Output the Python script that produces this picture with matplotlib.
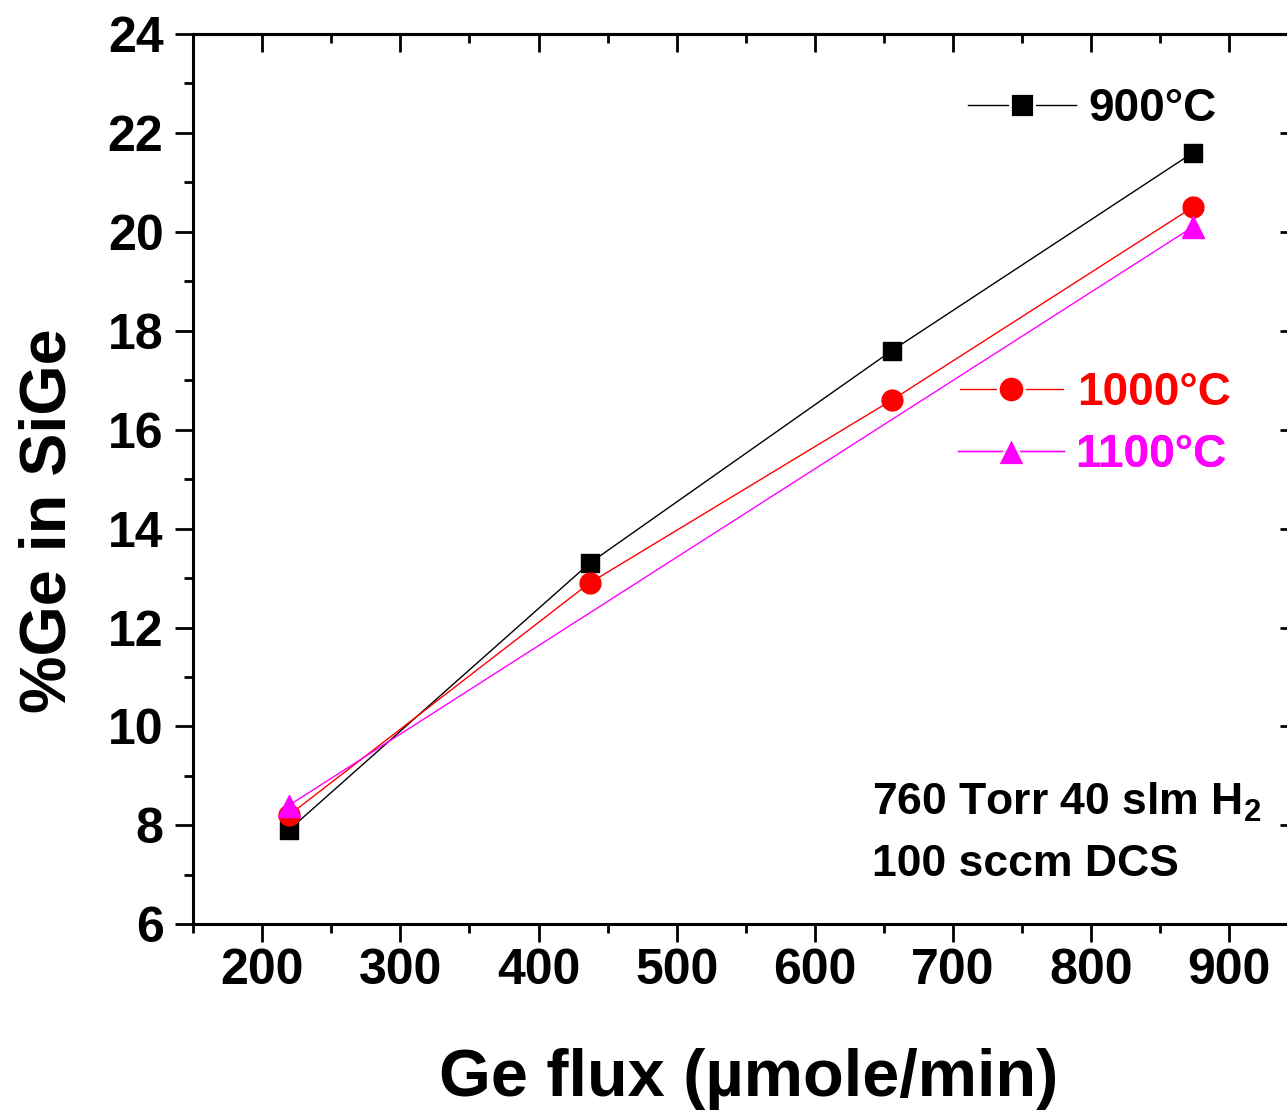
import matplotlib
matplotlib.use("Agg")
import matplotlib.pyplot as plt
from matplotlib.ticker import MultipleLocator
from matplotlib.lines import Line2D

plt.rcParams['font.family'] = ['Liberation Sans', 'DejaVu Sans']
plt.rcParams['font.weight'] = 'bold'
plt.rcParams['mathtext.fontset'] = 'custom'
plt.rcParams['mathtext.bf'] = 'Liberation Sans:bold'
plt.rcParams['mathtext.rm'] = 'Liberation Sans:bold'

# Ge flux (µmole/min) and Ge fraction (%) for each growth temperature
flux_900 = [219, 437, 656, 874]
ge_900 = [7.9, 13.3, 17.6, 21.6]
flux_1000 = [219, 437, 656, 874]
ge_1000 = [8.2, 12.9, 16.6, 20.5]
flux_1100 = [219, 874]
ge_1100 = [8.4, 20.1]

labels = ['900°C', '1000°C', '1100°C']
colors = ['black', '#FF0000', '#FF00FF']

fig = plt.figure(figsize=(12.87, 11.10), dpi=100)
ax = fig.add_axes([0.1502, 0.1673, 0.8583, 0.8021])

h900, = ax.plot(flux_900, ge_900, '-', color=colors[0], lw=1.0,
                marker='s', ms=13.5, mec=colors[0], zorder=3)
h1000, = ax.plot(flux_1000, ge_1000, '-', color=colors[1], lw=1.0,
                 marker='o', ms=15, mec=colors[1], zorder=3)
h1100, = ax.plot(flux_1100, ge_1100, '-', color=colors[2], lw=1.0,
                 marker='^', ms=16, mec=colors[2], zorder=3)

ax.set_xlim(150, 950)
ax.set_ylim(6, 24)
ax.xaxis.set_major_locator(MultipleLocator(100))
ax.xaxis.set_minor_locator(MultipleLocator(50))
ax.yaxis.set_major_locator(MultipleLocator(2))
ax.yaxis.set_minor_locator(MultipleLocator(1))

for sp in ax.spines.values():
    sp.set_linewidth(2.2)

ax.tick_params(axis='both', which='major', direction='out', length=13,
               width=2.0, labelsize=36)
ax.tick_params(axis='both', which='minor', direction='out', length=6.5,
               width=2.0)
ax.tick_params(axis='x', which='major', pad=4)
ax.tick_params(axis='y', which='major', pad=8.5)
for lab in ax.get_xticklabels() + ax.get_yticklabels():
    lab.set_fontweight('bold')

# mirrored axes with inward ticks on top and right
top = ax.secondary_xaxis('top')
top.xaxis.set_major_locator(MultipleLocator(100))
top.xaxis.set_minor_locator(MultipleLocator(50))
top.tick_params(which='major', direction='in', length=13, width=2.0, labeltop=False)
top.tick_params(which='minor', direction='in', length=6.5, width=2.0)
top.spines['top'].set_linewidth(2.2)

right = ax.secondary_yaxis('right')
right.yaxis.set_major_locator(MultipleLocator(2))
right.yaxis.set_minor_locator(MultipleLocator(1))
right.tick_params(which='major', direction='in', length=13, width=2.0, labelright=False)
right.tick_params(which='minor', direction='in', length=6.5, width=2.0)
right.spines['right'].set_linewidth(2.2)

ax.set_xlabel('Ge flux (µmole/min)', fontsize=48, fontweight='bold')
ax.set_ylabel('%Ge in SiGe', fontsize=46.5, fontweight='bold')
ax.xaxis.set_label_coords(0.5026, -0.139)
ax.yaxis.set_label_coords(-0.104, 0.453)


def legend_entry(handle, text, color, ms, x, y, hl, pad):
    proxy = Line2D([], [], color=handle.get_color(), lw=1.0,
                   marker=handle.get_marker(), ms=ms,
                   mfc=color, mec='white', mew=2.0)
    leg = ax.legend([proxy], [text], loc='center left', bbox_to_anchor=(x, y),
                    frameon=False, handlelength=hl, handletextpad=pad,
                    borderpad=0, borderaxespad=0,
                    prop={'size': 33, 'weight': 'bold'})
    for t in leg.get_texts():
        t.set_color(color)
    ax.add_artist(leg)


legend_entry(h900, labels[0], colors[0], 17, 0.7013, 0.916, 2.35, 0.28)
legend_entry(h1000, labels[1], colors[1], 19, 0.694, 0.597, 2.25, 0.3)
legend_entry(h1100, labels[2], colors[2], 20, 0.6925, 0.527, 2.3, 0.25)

ax.text(0.6144, 0.1232, r'760 Torr 40 slm $\mathbf{H_2}$', transform=ax.transAxes,
        fontsize=32, fontweight='bold', ha='left', va='baseline')
ax.text(0.6144, 0.0547, '100 sccm DCS', transform=ax.transAxes,
        fontsize=32, fontweight='bold', ha='left', va='baseline')

fig.savefig('out.png', dpi=100)
